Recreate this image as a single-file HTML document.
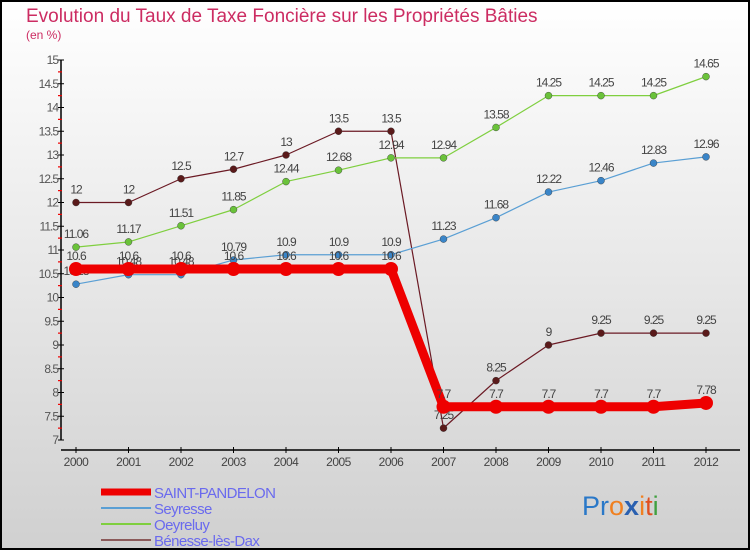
<!DOCTYPE html>
<html><head><meta charset="utf-8"><style>
body{margin:0}
#wrap{width:750px;height:550px;position:relative;overflow:hidden}
svg text{font-family:"Liberation Sans",sans-serif}
</style></head><body>
<div id="wrap">
<svg id="chart" width="750" height="550" viewBox="0 0 750 550">
<defs><linearGradient id="bg" x1="0" y1="0" x2="0" y2="1"><stop offset="0" stop-color="#ffffff"/><stop offset="1" stop-color="#d0d0d0"/></linearGradient></defs>
<rect x="1" y="1" width="748" height="548" fill="url(#bg)" stroke="#000" stroke-width="2"/>
<text x="26" y="22" font-size="19" fill="#cc2c62" font-weight="300">Evolution du Taux de Taxe Foncière sur les Propriétés Bâties</text>
<text x="26" y="39" font-size="12" fill="#cc2c62">(en %)</text>
<g id="axes"></g>
<g id="series"></g>
<g id="legend"></g>
<g>
<text x="582" y="515" font-size="27" font-family="Liberation Sans,sans-serif"><tspan fill="#2a78c8">Pr</tspan><tspan fill="#f08020">o</tspan><tspan fill="#2a60b0" font-weight="bold">x</tspan><tspan fill="#f08020">i</tspan><tspan fill="#e05020">t</tspan><tspan fill="#40a040">i</tspan></text>
</g>
</svg>
</div>
<script>
const years=[2000,2001,2002,2003,2004,2005,2006,2007,2008,2009,2010,2011,2012];
const yTicks=[7,7.5,8,8.5,9,9.5,10,10.5,11,11.5,12,12.5,13,13.5,14,14.5,15];
const seriesNames=["SAINT-PANDELON","Seyresse","Oeyreluy","Bénesse-lès-Dax"];
const stPandelon=[10.6,10.6,10.6,10.6,10.6,10.6,10.6,7.7,7.7,7.7,7.7,7.7,7.78];
const seyresse=[10.28,10.48,10.48,10.79,10.9,10.9,10.9,11.23,11.68,12.22,12.46,12.83,12.96];
const oeyreluy=[11.06,11.17,11.51,11.85,12.44,12.68,12.94,12.94,13.58,14.25,14.25,14.25,14.65];
const benesse=[12,12,12.5,12.7,13,13.5,13.5,7.25,8.25,9,9.25,9.25,9.25];

const NS="http://www.w3.org/2000/svg";
const x=i=>76+i*52.5;
const y=v=>440-(v-7)*47.5;
function mk(tag,attrs,parent){const e=document.createElementNS(NS,tag);for(const k in attrs)e.setAttribute(k,attrs[k]);parent.appendChild(e);return e;}
const axes=document.getElementById('axes');
let yl=mk('line',{x1:61,y1:y(15),x2:61,y2:y(7),stroke:'#000','stroke-width':1.5},axes);


let xl=mk('line',{x1:61,y1:450,x2:740,y2:450,stroke:'#000','stroke-width':1.5},axes);


yTicks.forEach(v=>{
  mk('line',{x1:58,y1:y(v),x2:64,y2:y(v),stroke:'#000'},axes);
  if(v<15) mk('line',{x1:58,y1:y(v+0.25),x2:62,y2:y(v+0.25),stroke:'#e00','stroke-width':1.2},axes);
  const t=mk('text',{x:58,y:y(v)+4,'font-size':12,fill:'#555','text-anchor':'end','letter-spacing':'-1'},axes);
  t.textContent=String(v);
  
  
});
years.forEach((yr,i)=>{
  mk('line',{x1:x(i),y1:447,x2:x(i),y2:453,stroke:'#000'},axes);
  const t=mk('text',{x:x(i),y:466,'font-size':12,fill:'#444','text-anchor':'middle','letter-spacing':'-0.5'},axes);
  t.textContent=yr;
  
  
});
const sg=document.getElementById('series');
const defs=[
 {d:benesse,c:'#6b1a24',w:1.2,r:3.5,name:'benesse-line'},
 {d:oeyreluy,c:'#7fcf3f',w:1.2,r:3.5,name:'oeyreluy-line'},
 {d:seyresse,c:'#5a9fd4',w:1.2,r:3.5,name:'seyresse-line'},
 {d:stPandelon,c:'#ee0000',w:9,r:7,name:'saint-pandelon-line'}];
const dot={'benesse-line':'#5a1a1a','oeyreluy-line':'#6ac23a','seyresse-line':'#3a85c8','saint-pandelon-line':'#ee0000'};
defs.forEach(s=>{
  const g=mk('g',{},sg);
  
  
  mk('polyline',{points:s.d.map((v,i)=>x(i)+','+y(v)).join(' '),fill:'none',stroke:s.c,'stroke-width':s.w,'stroke-linejoin':'round'},g);
  s.d.forEach((v,i)=>{
    const c=mk('circle',{cx:x(i),cy:y(v),r:s.r,fill:dot[s.name],stroke:s.r<5?'#333':'none','stroke-width':0.4},g);
    
    
    const t=mk('text',{x:x(i),y:y(v)-9,'font-size':12,fill:'#444','text-anchor':'middle','letter-spacing':'-1'},g);
    t.textContent=String(v);
    
    
  });
});
const lg=document.getElementById('legend');
const lc=['#ee0000','#5a9fd4','#7fcf3f','#8b5a5a'],lw=[7,2,2,2];
seriesNames.forEach((n,i)=>{
  const yy=492+i*16;
  const l=mk('line',{x1:101,y1:yy,x2:151,y2:yy,stroke:lc[i],'stroke-width':lw[i]},lg);
  
  
  const t=mk('text',{x:154,y:yy+6,'font-size':15,fill:'#6a6aee','letter-spacing':'-0.6'},lg);
  t.textContent=n;
  
  
});
</script>
</body></html>
